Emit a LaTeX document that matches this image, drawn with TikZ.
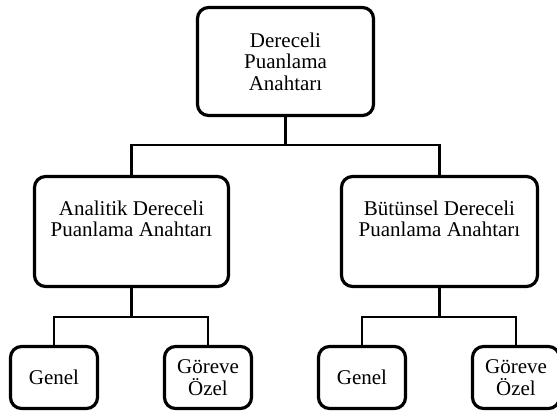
\documentclass[tikz,border=0pt]{standalone}
\usepackage{fontspec}
\setmainfont{Liberation Serif}
\begin{document}
\begin{tikzpicture}[x=1pt,y=-1pt,
  box/.style={draw=black, line width=3.2pt, rounded corners=11pt, fill=white,
    align=center, font=\fontsize{21}{21.5}\selectfont, inner sep=0pt},
  conn/.style={draw=black, line width=2.6pt}]
\useasboundingbox (0,0) rectangle (557,414);
\node[box, minimum width=176pt, minimum height=108pt] (top) at (285.5,61.5) {Dereceli\\Puanlama\\Anahtarı};
\node[box, minimum width=194pt, minimum height=110pt] (lm) at (131.5,231.5) {Analitik Dereceli\\Puanlama Anahtarı\\[4pt]};
\node[box, minimum width=196pt, minimum height=110pt] (rm) at (439.5,231.5) {Bütünsel Dereceli\\Puanlama Anahtarı\\[4pt]};
\node[box, minimum width=87pt, minimum height=62pt] (lg) at (54,377.5) {Genel};
\node[box, minimum width=87pt, minimum height=62pt] (lo) at (208,377.5) {Göreve\\Özel};
\node[box, minimum width=87pt, minimum height=62pt] (rg) at (362,377.5) {Genel};
\node[box, minimum width=87pt, minimum height=62pt] (ro) at (516,377.5) {Göreve\\Özel};
\coordinate (b1) at (285.5,145);
\coordinate (b2) at (131.5,317);
\coordinate (b3) at (439.5,317);
\draw[conn] (top.south) -- (b1);
\draw[conn] (lm.north) |- (b1) -| (rm.north);
\draw[conn] (lm.south) -- (b2);
\draw[conn] (lg.north) |- (b2) -| (lo.north);
\draw[conn] (rm.south) -- (b3);
\draw[conn] (rg.north) |- (b3) -| (ro.north);
\end{tikzpicture}
\end{document}
